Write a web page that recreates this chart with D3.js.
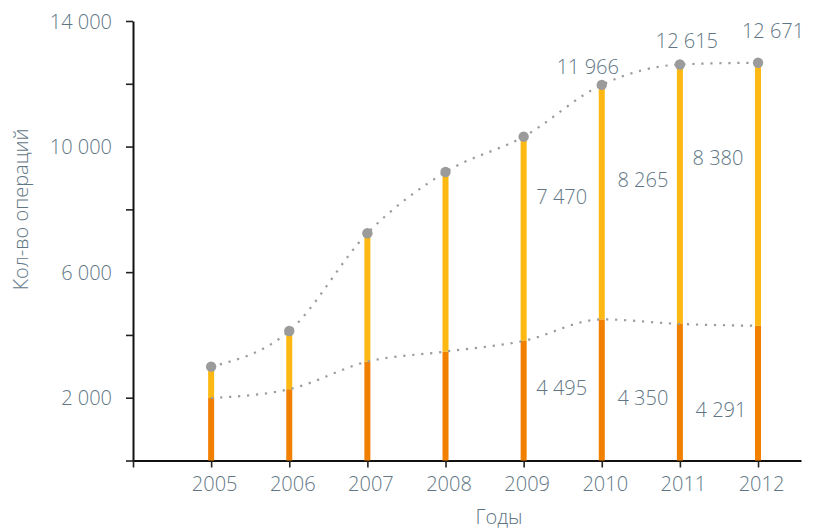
<!DOCTYPE html>
<html>
<head>
<meta charset="utf-8">
<script src="https://cdn.jsdelivr.net/npm/d3@7"></script>
<style>
  html, body { margin: 0; padding: 0; background: #ffffff; }
  svg { display: block; }
  text { font-family: "Open Sans", Lato, "DejaVu Sans", sans-serif; font-weight: 300; fill: #617684; }
</style>
</head>
<body>
<svg id="chart" width="815" height="531"></svg>
<script>
// Number of operations per year: lower (orange) and upper (yellow) parts of each bar
const years = [2005, 2006, 2007, 2008, 2009, 2010, 2011, 2012];
const lowerValues = [1990, 2270, 3150, 3470, 3810, 4495, 4350, 4291];
const upperValues = [1000, 1855, 4090, 5720, 6505, 7470, 8265, 8380];
const totals = [2990, 4125, 7240, 9190, 10315, 11966, 12615, 12671];

// Axis ticks and labels
const yTickValues = [0, 2000, 4000, 6000, 8000, 10000, 12000, 14000];
const yTickLabels = ["", "2 000", "", "6 000", "", "10 000", "", "14 000"];
const xTickValues = [2004, 2005, 2006, 2007, 2008, 2009, 2010, 2011, 2012];
const xTickLabels = ["", "2005", "2006", "2007", "2008", "2009", "2010", "2011", "2012"];

const yTitle = "Кол-во операций";
const xTitle = "Годы";

// Which years carry value labels
const labelledYears = [2010, 2011, 2012];

const svg = d3.select("#chart");
const fmt = v => d3.format(",")(v).replace(/,/g, " ");

const x = d3.scaleLinear().domain([2004, 2012.55]).range([133, 801]);
const y = d3.scaleLinear().domain([0, 14000]).range([460.5, 21]);

// Axes
const yAxis = d3.axisLeft(y)
  .tickValues(yTickValues)
  .tickFormat((d, i) => yTickLabels[i])
  .tickSize(7).tickSizeOuter(0).tickPadding(14);
const gy = svg.append("g").attr("transform", `translate(${x.range()[0]},0)`).call(yAxis);

const xAxis = d3.axisBottom(x)
  .tickValues(xTickValues)
  .tickFormat((d, i) => xTickLabels[i])
  .tickSize(7).tickSizeOuter(0).tickPadding(9);
const gx = svg.append("g").attr("transform", `translate(0,${y(0)})`).call(xAxis);

[gx, gy].forEach(g => {
  g.select(".domain").attr("stroke", "#111").attr("stroke-width", 2);
  g.selectAll(".tick line").attr("stroke", "#222").attr("stroke-width", 1.6);
  g.selectAll(".tick text").attr("font-size", 20).attr("fill", "#617684")
    .style("font-family", '"Open Sans", Lato, sans-serif').style("font-weight", 300);
});
gy.selectAll(".tick text").attr("dy", "0.36em");
gx.selectAll(".tick text").attr("dx", 3);

// Axis titles
svg.append("text")
  .attr("transform", `translate(28,${y(8000)}) rotate(-90)`)
  .attr("text-anchor", "middle")
  .attr("font-size", 20)
  .text(yTitle);
svg.append("text")
  .attr("x", 499).attr("y", 524)
  .attr("text-anchor", "middle")
  .attr("font-size", 20)
  .text(xTitle);

// Stacked bars
const barW = 6;
const bars = svg.append("g");
bars.selectAll("rect.lower").data(years).join("rect")
  .attr("class", "lower")
  .attr("x", d => x(d) - barW / 2)
  .attr("width", barW)
  .attr("y", (d, i) => y(lowerValues[i]))
  .attr("height", (d, i) => y(0) - y(lowerValues[i]))
  .attr("fill", "#f17f00");
bars.selectAll("rect.upper").data(years).join("rect")
  .attr("class", "upper")
  .attr("x", d => x(d) - barW / 2)
  .attr("width", barW)
  .attr("y", (d, i) => y(lowerValues[i] + upperValues[i]))
  .attr("height", (d, i) => y(lowerValues[i]) - y(lowerValues[i] + upperValues[i]))
  .attr("fill", "#fdb813");

// Dotted trend lines
const line = d3.line().x(d => x(d[0])).y(d => y(d[1])).curve(d3.curveMonotoneX);
const dotted = (vals) => svg.append("path")
  .attr("d", line(years.map((yr, i) => [yr, vals[i]])))
  .attr("fill", "none")
  .attr("stroke", "#9b9b9b")
  .attr("stroke-width", 2.2)
  .attr("stroke-dasharray", "2.2 6.8");
dotted(lowerValues);
dotted(totals);

// Markers on totals
svg.append("g").selectAll("circle").data(years).join("circle")
  .attr("cx", d => x(d))
  .attr("cy", (d, i) => y(totals[i]))
  .attr("r", 5.2)
  .attr("fill", "#9b9b9b");

// Value labels, offset from their bar (dx, dy in px)
const totalLabelOffset = { 2010: [-14, -11], 2011: [7, -16], 2012: [15, -25] };
const upperLabelOffset = { 2010: [-40, 2], 2011: [-37, -7], 2012: [-40, -29] };
const lowerLabelOffset = { 2010: [-40, 5], 2011: [-37, 13], 2012: [-37, 24] };

const labels = svg.append("g").attr("font-size", 20).attr("text-anchor", "middle");
labelledYears.forEach(yr => {
  const i = years.indexOf(yr);
  const lo = lowerValues[i], up = upperValues[i], tot = totals[i];
  let o = totalLabelOffset[yr];
  labels.append("text").attr("x", x(yr) + o[0]).attr("y", y(tot) + o[1]).text(fmt(tot));
  o = upperLabelOffset[yr];
  labels.append("text").attr("x", x(yr) + o[0]).attr("y", y(lo + up / 2) + o[1]).text(fmt(up));
  o = lowerLabelOffset[yr];
  labels.append("text").attr("x", x(yr) + o[0]).attr("y", y(lo / 2) + o[1]).text(fmt(lo));
});
</script>
</body>
</html>
